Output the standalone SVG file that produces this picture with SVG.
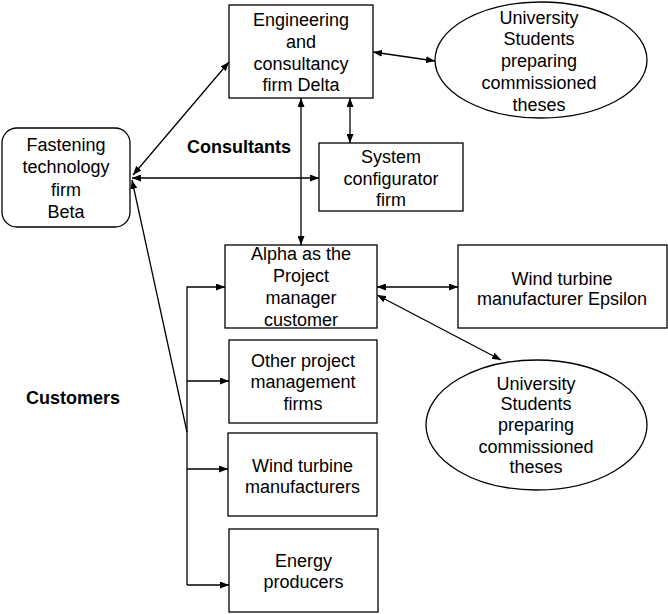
<svg xmlns="http://www.w3.org/2000/svg" width="668" height="614" viewBox="0 0 668 614">
<style>
  .box{fill:#fff;stroke:#000;stroke-width:1.3}
  .t{font-family:"Liberation Sans",Arial,sans-serif;font-size:18px;fill:#000;text-anchor:middle}
  .b{font-family:"Liberation Sans",Arial,sans-serif;font-size:18px;font-weight:bold;fill:#000}
  .c{fill:none;stroke:#000;stroke-width:1.3}
</style>
<defs>
  <marker id="ah" markerUnits="userSpaceOnUse" markerWidth="9" markerHeight="7" refX="9" refY="3.5" orient="auto-start-reverse">
    <path d="M0,0 L9,3.5 L0,7 z" fill="#000"/>
  </marker>
</defs>
<rect width="668" height="614" fill="#fff"/>

<g id="connectors">
  <line class="c" x1="133" y1="175" x2="229" y2="62" marker-start="url(#ah)" marker-end="url(#ah)"/>
  <line class="c" x1="132" y1="178" x2="319" y2="178" marker-start="url(#ah)" marker-end="url(#ah)"/>
  <line class="c" x1="187" y1="432" x2="132" y2="180" marker-end="url(#ah)"/>
  <line class="c" x1="373" y1="52" x2="435" y2="61" marker-start="url(#ah)" marker-end="url(#ah)"/>
  <line class="c" x1="301" y1="98" x2="301" y2="245" marker-start="url(#ah)" marker-end="url(#ah)"/>
  <line class="c" x1="350" y1="98" x2="350" y2="143" marker-start="url(#ah)" marker-end="url(#ah)"/>
  <line class="c" x1="377" y1="287" x2="458" y2="287" marker-start="url(#ah)" marker-end="url(#ah)"/>
  <line class="c" x1="377" y1="295" x2="501" y2="360" marker-start="url(#ah)" marker-end="url(#ah)"/>
  <polyline class="c" points="187,585 187,287 225,287" marker-end="url(#ah)"/>
  <line class="c" x1="187" y1="381" x2="229" y2="381" marker-end="url(#ah)"/>
  <line class="c" x1="187" y1="469" x2="228" y2="469" marker-end="url(#ah)"/>
  <line class="c" x1="187" y1="585" x2="229" y2="585" marker-end="url(#ah)"/>
</g>

<g id="beta">
  <rect class="box" x="2" y="128" width="128" height="99" rx="15"/>
  <text class="t"><tspan x="66" y="151">Fastening</tspan><tspan x="66" y="173">technology</tspan><tspan x="66" y="196">firm</tspan><tspan x="66" y="218">Beta</tspan></text>
</g>
<g id="delta">
  <rect class="box" x="229" y="5" width="144" height="93"/>
  <text class="t"><tspan x="301" y="26">Engineering</tspan><tspan x="301" y="48">and</tspan><tspan x="301" y="70">consultancy</tspan><tspan x="301" y="91">firm Delta</tspan></text>
</g>
<g id="students1">
  <ellipse class="box" cx="541" cy="60" rx="106" ry="58"/>
  <text class="t"><tspan x="539" y="24">University</tspan><tspan x="539" y="45">Students</tspan><tspan x="539" y="67">preparing</tspan><tspan x="539" y="89">commissioned</tspan><tspan x="539" y="111">theses</tspan></text>
</g>
<g id="system">
  <rect class="box" x="319" y="143" width="144" height="68"/>
  <text class="t"><tspan x="391" y="163">System</tspan><tspan x="391" y="185">configurator</tspan><tspan x="391" y="206">firm</tspan></text>
</g>
<g id="alpha">
  <rect class="box" x="225" y="245" width="152" height="83"/>
  <text class="t"><tspan x="301" y="260">Alpha as the</tspan><tspan x="301" y="282">Project</tspan><tspan x="301" y="304">manager</tspan><tspan x="301" y="326">customer</tspan></text>
</g>
<g id="epsilon">
  <rect class="box" x="458" y="245" width="209" height="83"/>
  <text class="t"><tspan x="562" y="285">Wind turbine</tspan><tspan x="562" y="305">manufacturer Epsilon</tspan></text>
</g>
<g id="students2">
  <ellipse class="box" cx="536.5" cy="425" rx="110.5" ry="65"/>
  <text class="t"><tspan x="536" y="390">University</tspan><tspan x="536" y="410">Students</tspan><tspan x="536" y="431">preparing</tspan><tspan x="536" y="453">commissioned</tspan><tspan x="536" y="473">theses</tspan></text>
</g>
<g id="otherpm">
  <rect class="box" x="229" y="340" width="148" height="83"/>
  <text class="t"><tspan x="303" y="367">Other project</tspan><tspan x="303" y="388">management</tspan><tspan x="303" y="410">firms</tspan></text>
</g>
<g id="windmfr">
  <rect class="box" x="228" y="433" width="149" height="83"/>
  <text class="t"><tspan x="302.5" y="472">Wind turbine</tspan><tspan x="302.5" y="493">manufacturers</tspan></text>
</g>
<g id="energy">
  <rect class="box" x="229" y="529" width="149" height="83"/>
  <text class="t"><tspan x="303.5" y="567">Energy</tspan><tspan x="303.5" y="588">producers</tspan></text>
</g>
<g id="labels">
  <text class="b" x="187" y="153">Consultants</text>
  <text class="b" x="26" y="404">Customers</text>
</g>
</svg>
